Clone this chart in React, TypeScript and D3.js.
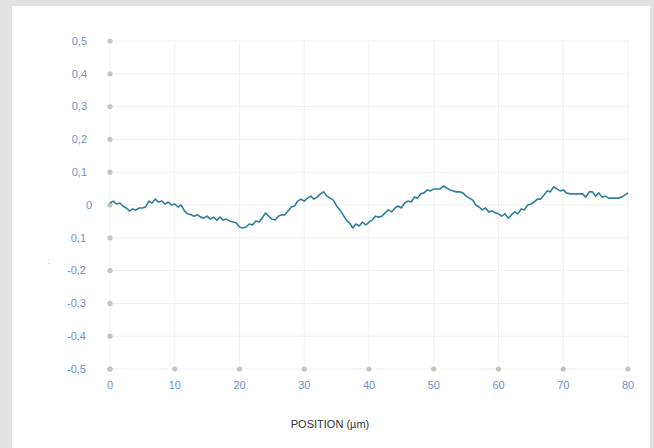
import React from "react";
import * as d3 from "d3";

const xTicks = [0, 10, 20, 30, 40, 50, 60, 70, 80];
const xTickLabels = ["0", "10", "20", "30", "40", "50", "60", "70", "80"];
const yTicks = [0.5, 0.4, 0.3, 0.2, 0.1, 0, -0.1, -0.2, -0.3, -0.4, -0.5];
const yTickLabels = ["0,5", "0,4", "0,3", "0,2", "0,1", "0", "0,1", "-0,2", "-0,3", "-0,4", "-0,5"];
const xTitle = "POSITION (µm)";

const positions = [
  0, 0.5, 1, 1.5, 2, 2.5, 3, 3.5, 4, 4.5, 5, 5.5, 6, 6.5, 7, 7.5, 8, 8.5, 9, 9.5,
  10, 10.5, 11, 11.5, 12, 12.5, 13, 13.5, 14, 14.5, 15, 15.5, 16, 16.5, 17, 17.5, 18, 18.5, 19, 19.5,
  20, 20.5, 21, 21.5, 22, 22.5, 23, 23.5, 24, 24.5, 25, 25.5, 26, 26.5, 27, 27.5, 28, 28.5, 29, 29.5,
  30, 30.5, 31, 31.5, 32, 32.5, 33, 33.5, 34, 34.5, 35, 35.5, 36, 36.5, 37, 37.5, 38, 38.5, 39, 39.5,
  40, 40.5, 41, 41.5, 42, 42.5, 43, 43.5, 44, 44.5, 45, 45.5, 46, 46.5, 47, 47.5, 48, 48.5, 49, 49.5,
  50, 50.5, 51, 51.5, 52, 52.5, 53, 53.5, 54, 54.5, 55, 55.5, 56, 56.5, 57, 57.5, 58, 58.5, 59, 59.5,
  60, 60.5, 61, 61.5, 62, 62.5, 63, 63.5, 64, 64.5, 65, 65.5, 66, 66.5, 67, 67.5, 68, 68.5, 69, 69.5,
  70, 70.5, 71, 71.5, 72, 72.5, 73, 73.5, 74, 74.5, 75, 75.5, 76, 76.5, 77, 77.5, 78, 78.5, 79, 79.5, 80,
];

const heights = [
  0.006, 0.012, 0.003, 0.006, -0.003, -0.009, -0.018, -0.012, -0.015, -0.009, -0.009, -0.006, 0.012, 0.006, 0.018, 0.009, 0.012, 0.003, 0.009, 0.0,
  0.003, -0.006, 0.0, -0.018, -0.027, -0.03, -0.034, -0.03, -0.037, -0.04, -0.034, -0.043, -0.037, -0.046, -0.037, -0.046, -0.043, -0.049, -0.052, -0.055,
  -0.067, -0.07, -0.067, -0.058, -0.061, -0.049, -0.052, -0.04, -0.024, -0.034, -0.043, -0.046, -0.034, -0.03, -0.03, -0.018, -0.006, -0.003, 0.012, 0.018,
  0.012, 0.021, 0.027, 0.018, 0.024, 0.034, 0.04, 0.027, 0.021, 0.015, -0.003, -0.015, -0.03, -0.046, -0.055, -0.07, -0.058, -0.064, -0.052, -0.061,
  -0.052, -0.046, -0.034, -0.037, -0.034, -0.024, -0.015, -0.021, -0.009, -0.003, -0.009, 0.006, 0.012, 0.009, 0.024, 0.021, 0.034, 0.037, 0.046, 0.043,
  0.049, 0.049, 0.049, 0.058, 0.052, 0.046, 0.043, 0.04, 0.04, 0.037, 0.027, 0.021, 0.015, 0.0, -0.006, -0.015, -0.009, -0.021, -0.018, -0.024,
  -0.027, -0.034, -0.027, -0.04, -0.03, -0.021, -0.027, -0.012, -0.015, 0.0, 0.003, 0.009, 0.018, 0.018, 0.03, 0.043, 0.04, 0.055, 0.049, 0.043,
  0.046, 0.037, 0.034, 0.034, 0.034, 0.034, 0.034, 0.024, 0.04, 0.04, 0.027, 0.037, 0.024, 0.027, 0.021, 0.021, 0.021, 0.021, 0.024, 0.03, 0.037,
];

const W = 654;
const H = 448;
const left = 110;
const right = 628;
const top = 41;
const bottom = 369;

export default function App() {
  const x = d3.scaleLinear().domain([0, 80]).range([left, right]);
  const y = d3.scaleLinear().domain([-0.5, 0.5]).range([bottom, top]);
  const pts = positions.map((p, i) => [p, heights[i]] as [number, number]);
  const line = d3
    .line<[number, number]>()
    .x((d) => x(d[0]))
    .y((d) => y(d[1]));
  const labelRight = (v: number) => (v > 0 ? 87 : v === 0 ? 92 : 86);

  return (
    <div style={{ position: "fixed", left: 0, top: 0, width: W, height: H }}>
      <svg width={W} height={H} style={{ display: "block", fontFamily: "'Liberation Sans', Arial, sans-serif" }}>
        <rect x={0} y={0} width={W} height={H} fill="#e2e2e4" />
        <rect x={12} y={6} width={638} height={H - 6} fill="#ffffff" />
        {yTicks.map((t) => (
          <line key={"gy" + t} x1={left} x2={right} y1={y(t)} y2={y(t)} stroke="#f1f1f1" strokeWidth={1} />
        ))}
        {xTicks.map((t) => (
          <line key={"gx" + t} x1={x(t)} x2={x(t)} y1={top} y2={bottom} stroke="#f1f1f1" strokeWidth={1} />
        ))}
        {yTicks.map((t) => (
          <circle key={"dy" + t} cx={x(0)} cy={y(t)} r={2.6} fill="#c4c4c4" />
        ))}
        {xTicks.map((t) => (
          <circle key={"dx" + t} cx={x(t)} cy={y(-0.5)} r={2.6} fill="#c4c4c4" />
        ))}
        {yTicks.map((t, i) => (
          <text key={"ly" + i} x={labelRight(t)} y={y(t)} dy="0.35em" textAnchor="end" fontSize={11} fill="#6f8fd2">
            {yTickLabels[i]}
          </text>
        ))}
        {xTicks.map((t, i) => (
          <text key={"lx" + i} x={x(t)} y={385} dy="0.35em" textAnchor="middle" fontSize={11} fill="#6f8fd2">
            {xTickLabels[i]}
          </text>
        ))}
        <text x={330} y={424} dy="0.35em" textAnchor="middle" fontSize={11} fill="#333333">
          {xTitle}
        </text>
        <text x={49} y={262} dy="0.35em" textAnchor="middle" fontSize={6} fill="#9a9a9a">
          ⁚.
        </text>
        <path d={line(pts) || ""} fill="none" stroke="#2f7f9c" strokeWidth={1.6} strokeLinejoin="round" />
      </svg>
    </div>
  );
}
